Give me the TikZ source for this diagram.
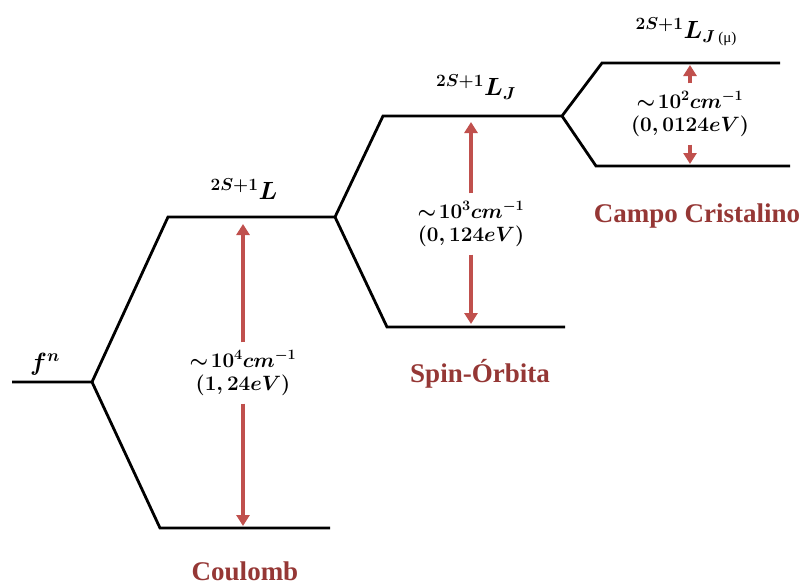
\documentclass[tikz,border=0pt]{standalone}
\usepackage{fontspec}
\usepackage{amsmath}
\newfontfamily\lblfont{Liberation Serif}
\usetikzlibrary{arrows.meta}
\definecolor{arrowred}{HTML}{C0504D}
\definecolor{labelred}{HTML}{953735}
\tikzset{
  level/.style={line width=2.8pt, black, line join=miter},
  gaparrow/.style={line width=4.5pt, arrowred, -{Triangle[width=13pt,length=11pt]}},
  gaptext/.style={align=center, inner xsep=2pt, inner ysep=8pt, font=\fontsize{19.5}{23}\selectfont\boldmath},
  termlbl/.style={font=\fontsize{25}{28}\selectfont\boldmath},
  steplbl/.style={anchor=base, text=labelred, font=\lblfont\bfseries\fontsize{27}{29}\selectfont}
}
\begin{document}
\begin{tikzpicture}[x=1pt,y=-1pt]
\useasboundingbox (0,0) rectangle (803,587);
% level coordinates
\coordinate (f0) at (12,382);
\coordinate (f1) at (92,382);
\coordinate (a1) at (168,217);
\coordinate (a2) at (335,217);
\coordinate (b1) at (160,528);
\coordinate (b2) at (330,528);
\coordinate (c1) at (383,116);
\coordinate (c2) at (562,116);
\coordinate (d1) at (387,327);
\coordinate (d2) at (565,327);
\coordinate (e1) at (602,63);
\coordinate (e2) at (780,63);
\coordinate (g1) at (596,166);
\coordinate (g2) at (790,166);
% levels
\draw[level] (f0) -- (f1) -- (a1) -- (a2) -- (c1) -- (c2) -- (e1) -- (e2);
\draw[level] (f1) -- (b1) -- (b2);
\draw[level] (a2) -- (d1) -- (d2);
\draw[level] (c2) -- (g1) -- (g2);
% gap texts
\node[gaptext] (t1) at (243,373) {$\sim\!10^4cm^{-1}$\\$(1,24eV)$};
\node[gaptext] (t2) at (471,224) {$\sim\!10^3cm^{-1}$\\$(0,124eV)$};
\node[gaptext] (t3) at (690,114) {$\sim\!10^2cm^{-1}$\\$(0,0124eV)$};
% arrow ends
\coordinate (t1u) at (243,224);
\coordinate (t1d) at (243,526);
\coordinate (t2u) at (471,122);
\coordinate (t2d) at (471,324);
\coordinate (t3u) at (690,65);
\coordinate (t3d) at (690,164);
\draw[gaparrow] (t1.north) -- (t1u);
\draw[gaparrow] (t1.south) -- (t1d);
\draw[gaparrow] (t2.north) -- (t2u);
\draw[gaparrow] (t2.south) -- (t2d);
\draw[gaparrow] (t3.north) -- (t3u);
\draw[gaparrow] (t3.south) -- (t3d);
% term labels
\node[termlbl] (fn) at (45,364) {$f^n$};
\node[termlbl] (l1) at (244,189) {${}^{2S+1}L$};
\node[termlbl] (l2) at (476,87) {${}^{2S+1}L_J$};
\node[termlbl, anchor=west] (l3) at (632,32) {${}^{2S+1}L_{J\,\mbox{\lblfont\mdseries\fontsize{15}{15}\selectfont(μ)}}$};
% step labels
\node[steplbl] (coul) at (245,580) {Coulomb};
\node[steplbl] (spin) at (480,382) {Spin-Órbita};
\node[steplbl] (cf) at (697,222) {Campo Cristalino};
\end{tikzpicture}
\end{document}
